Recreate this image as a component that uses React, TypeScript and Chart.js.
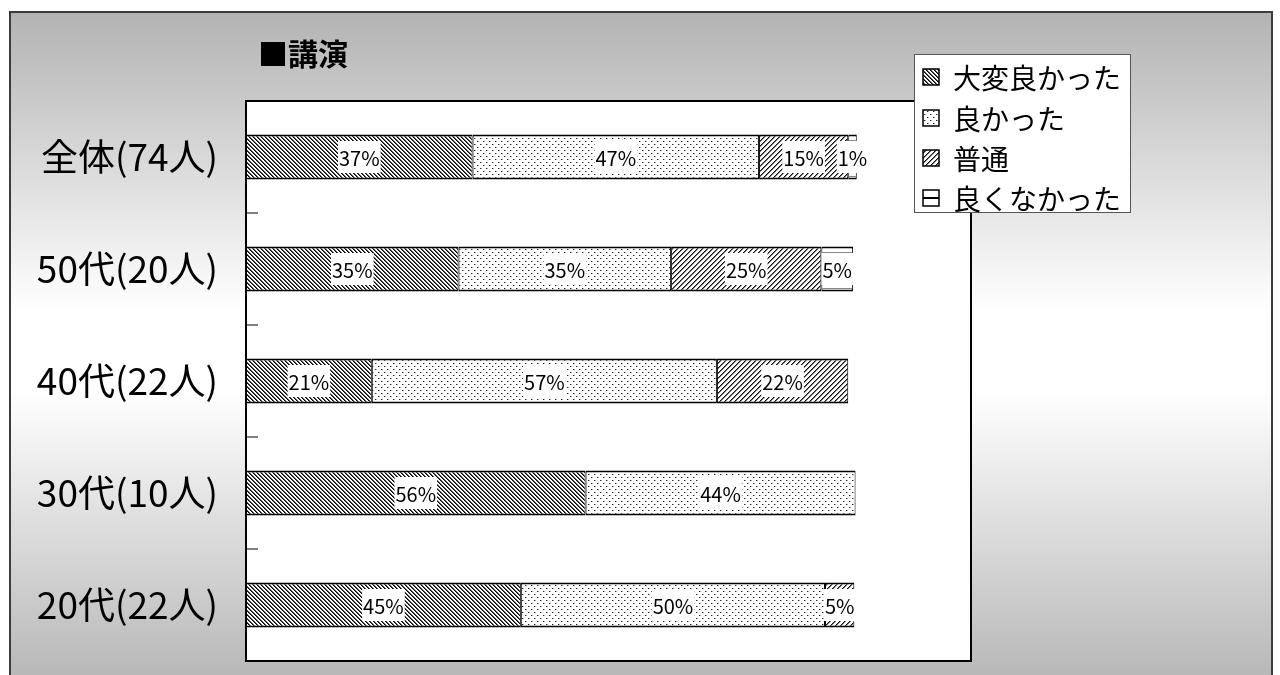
import React, { useEffect, useRef } from "react";
import { Chart, registerables } from "chart.js";
Chart.register(...registerables);

const categories = ["全体(74人)", "50代(20人)", "40代(22人)", "30代(10人)", "20代(22人)"];
const seriesNames = ["大変良かった", "良かった", "普通", "良くなかった"];
const veryGood = [37.1, 34.8, 20.6, 55.6, 45.0];
const good = [46.9, 34.8, 56.5, 44.2, 49.8];
const average = [14.6, 24.6, 21.5, null, 4.8];
const notGood = [1.4, 5.2, null, null, null];
const seriesValues = [veryGood, good, average, notGood];
const titleText = "■講演";
const xMax = 118.7;

const FONT = "'Noto Sans CJK JP', 'Noto Sans', sans-serif";

function tile(w: number, h: number, draw: (g: CanvasRenderingContext2D) => void) {
  const c = document.createElement("canvas");
  c.width = w;
  c.height = h;
  const g = c.getContext("2d")!;
  g.fillStyle = "#fff";
  g.fillRect(0, 0, w, h);
  draw(g);
  return c;
}

function makePatterns(ctx: CanvasRenderingContext2D) {
  const a = tile(8, 8, (g) => {
    for (let y = 0; y < 8; y++)
      for (let x = 0; x < 8; x++) {
        const m = (x - y + 8) % 4;
        if (m === 0) { g.fillStyle = "#000"; g.fillRect(x, y, 1, 1); }
        else if (m === 1) { g.fillStyle = "#555"; g.fillRect(x, y, 1, 1); }
      }
  });
  const b = tile(6, 6, (g) => {
    g.fillStyle = "#222";
    g.fillRect(0, 0, 1, 1);
    g.fillRect(3, 3, 1, 1);
    g.fillStyle = "#aaa";
    g.fillRect(1, 0, 1, 1);
    g.fillRect(4, 3, 1, 1);
  });
  const c = tile(5, 5, (g) => {
    for (let y = 0; y < 5; y++)
      for (let x = 0; x < 5; x++) {
        const m = (x + y) % 5;
        if (m === 0) { g.fillStyle = "#111"; g.fillRect(x, y, 1, 1); }
        else if (m === 1) { g.fillStyle = "#777"; g.fillRect(x, y, 1, 1); }
      }
  });
  const d = tile(4, 112, (g) => {
    g.fillStyle = "#888";
    g.fillRect(0, 28, 4, 1);
    g.fillRect(0, 64, 4, 1);
  });
  return [a, b, c, d].map((t) => ctx.createPattern(t, "repeat")!);
}

export default function App() {
  const ref = useRef<HTMLCanvasElement>(null);
  useEffect(() => {
    const canvas = ref.current!;
    const ctx0 = canvas.getContext("2d")!;
    const patterns = makePatterns(ctx0);

    const decor = {
      id: "decor",
      beforeDraw(chart: any) {
        const ctx = chart.ctx as CanvasRenderingContext2D;
        ctx.save();
        ctx.fillStyle = "#fff";
        ctx.fillRect(0, 0, 1280, 675);
        const grad = ctx.createLinearGradient(0, 12, 0, 675);
        grad.addColorStop(0, "#b3b3b3");
        grad.addColorStop((310 - 12) / 663, "#ffffff");
        grad.addColorStop((390 - 12) / 663, "#ffffff");
        grad.addColorStop(1, "#b8b8b8");
        ctx.fillStyle = grad;
        ctx.fillRect(10, 12, 1262, 700);
        ctx.strokeStyle = "#3c3c3c";
        ctx.lineWidth = 2;
        ctx.strokeRect(10, 12, 1262, 700);
        const ca = chart.chartArea;
        ctx.fillStyle = "#fff";
        ctx.fillRect(ca.left, ca.top, ca.right - ca.left, ca.bottom - ca.top);
        ctx.restore();
      },
      afterDatasetsDraw(chart: any) {
        const ctx = chart.ctx as CanvasRenderingContext2D;
        const ca = chart.chartArea;
        ctx.save();
        // plot border
        ctx.strokeStyle = "#000";
        ctx.lineWidth = 2;
        ctx.strokeRect(ca.left, ca.top, ca.right - ca.left, ca.bottom - ca.top);
        // inner ticks at category boundaries
        const ys = chart.scales.y;
        ctx.strokeStyle = "#808080";
        ctx.lineWidth = 2;
        for (let i = 0; i < categories.length - 1; i++) {
          const yy = Math.round((ys.getPixelForTick(i) + ys.getPixelForTick(i + 1)) / 2);
          ctx.beginPath();
          ctx.moveTo(ca.left + 1, yy);
          ctx.lineTo(ca.left + 12, yy);
          ctx.stroke();
        }
        // data labels
        ctx.font = `20px ${FONT}`;
        ctx.textAlign = "center";
        ctx.textBaseline = "middle";
        chart.data.datasets.forEach((ds: any, di: number) => {
          const meta = chart.getDatasetMeta(di);
          meta.data.forEach((el: any, i: number) => {
            const v = ds.data[i];
            if (v == null) return;
            const p = el.getProps(["x", "base", "y"], true);
            const cx = (p.x + p.base) / 2;
            const text = Math.round(v) + "%";
            const w = ctx.measureText(text).width;
            ctx.fillStyle = "#fff";
            ctx.fillRect(cx - w / 2 - 1, p.y - 16, w + 2, 32);
            ctx.fillStyle = "#000";
            ctx.fillText(text, cx, p.y + 1);
          });
        });
        // legend
        ctx.fillStyle = "#fff";
        ctx.fillRect(914, 54, 216, 158);
        ctx.strokeStyle = "#555";
        ctx.lineWidth = 1;
        ctx.strokeRect(914.5, 54.5, 216, 158);
        const rows = [77, 118, 158, 198];
        ctx.font = `28px ${FONT}`;
        ctx.textAlign = "left";
        chart.data.datasets.forEach((ds: any, di: number) => {
          const cy = rows[di];
          if (di === 3) {
            ctx.fillStyle = "#fff";
            ctx.fillRect(923, cy - 8, 16, 16);
            ctx.strokeStyle = "#000";
            ctx.lineWidth = 2;
            ctx.beginPath();
            ctx.moveTo(923, cy);
            ctx.lineTo(939, cy);
            ctx.stroke();
          } else {
            ctx.fillStyle = ds.backgroundColor;
            ctx.fillRect(923, cy - 8, 16, 16);
          }
          ctx.strokeStyle = "#000";
          ctx.lineWidth = 1.5;
          ctx.strokeRect(923, cy - 8, 16, 16);
          ctx.fillStyle = "#000";
          ctx.textBaseline = "middle";
          ctx.fillText(ds.label, 953, cy + 1);
        });
        // title
        ctx.font = `bold 30px ${FONT}`;
        ctx.fillStyle = "#000";
        ctx.textAlign = "left";
        ctx.textBaseline = "middle";
        ctx.fillText(titleText, 258, 54);
        ctx.restore();
      },
    };

    const chart = new Chart(canvas, {
      type: "bar",
      data: {
        labels: categories,
        datasets: seriesNames.map((name, i) => ({
          label: name,
          data: seriesValues[i] as any,
          backgroundColor: patterns[i] as any,
          borderColor: "#000",
          borderWidth: { top: 2, bottom: 2, left: 1, right: 1 } as any,
          borderSkipped: false as any,
          barPercentage: 0.4,
          categoryPercentage: 1,
        })),
      },
      options: {
        indexAxis: "y",
        responsive: false,
        animation: false,
        events: [],
        devicePixelRatio: 1,
        layout: { padding: { top: 101, bottom: 14, right: 309, left: 0 } },
        plugins: {
          legend: { display: false },
          title: { display: false },
          tooltip: { enabled: false },
        },
        scales: {
          x: { display: false, stacked: true, min: 0, max: xMax },
          y: {
            stacked: true,
            offset: true,
            grid: { display: false, drawTicks: false },
            border: { display: false },
            ticks: {
              color: "#000",
              padding: 28,
              font: { family: FONT, size: 37 },
            },
            afterFit(scale: any) {
              scale.width = 246;
              scale.paddingTop = 0;
              scale.paddingBottom = 0;
            },
          },
        },
      },
      plugins: [decor],
    } as any);
    return () => chart.destroy();
  }, []);
  return (
    <div style={{ position: "fixed", left: 0, top: 0, width: 1280, height: 675, background: "#fff" }}>
      <canvas ref={ref} width={1280} height={675} style={{ display: "block" }} />
    </div>
  );
}
